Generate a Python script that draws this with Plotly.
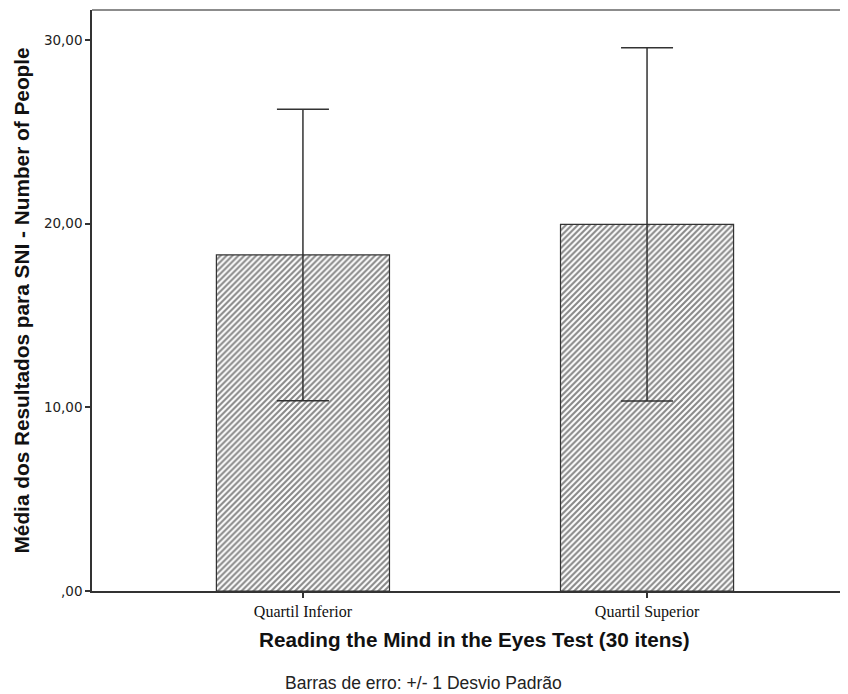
import plotly.graph_objects as go

categories = ["Quartil Inferior", "Quartil Superior"]
means = [18.30, 19.97]
sds = [7.94, 9.62]
ytick_vals = [0, 10, 20, 30]
ytick_text = [",00", "10,00", "20,00", "30,00"]

fig = go.Figure()
fig.add_trace(go.Bar(
    x=categories, y=means, width=0.503,
    marker=dict(color="white", line=dict(color="#333333", width=1.2),
                pattern=dict(shape="/", fgcolor="#111111", bgcolor="white", size=4.2, solidity=0.5)),
    error_y=dict(type="data", array=sds, visible=True, color="#333333", thickness=1.5, width=26),
    showlegend=False,
))

fig.update_layout(
    width=840, height=686,
    margin=dict(l=84, r=0, t=2, b=103),
    paper_bgcolor="white", plot_bgcolor="white",
    xaxis=dict(range=[-0.613, 1.584], showgrid=False, zeroline=False,
               showline=True, linecolor="#333333", linewidth=1.5,
               ticks="outside", ticklen=5, tickcolor="#333333", tickwidth=1.5,
               tickfont=dict(family="Liberation Serif", size=16, color="#111111")),
    yaxis=dict(range=[0, 31.64], showgrid=False, zeroline=False,
               showline=True, linecolor="#333333", linewidth=1.5,
               ticks="outside", ticklen=5, tickcolor="#333333", tickwidth=1.5,
               tickvals=ytick_vals, ticktext=ytick_text,
               tickfont=dict(family="DejaVu Sans", size=13.5, color="#222222")),
    shapes=[dict(type="line", xref="paper", yref="paper", x0=0, x1=1, y0=1, y1=1,
                 line=dict(color="#8c8c8c", width=2))],
    annotations=[
        dict(text="<b>Reading the Mind in the Eyes Test (30 itens)</b>", xref="x", yref="paper",
             x=0.5, y=-0.0843, xanchor="center", yanchor="middle", showarrow=False,
             font=dict(family="Liberation Sans", size=20.7, color="#111111")),
        dict(text="<b>Média dos Resultados para SNI - Number of People</b>", xref="paper", yref="paper",
             x=-0.0926, y=0.5, xanchor="center", yanchor="middle", textangle=-90, showarrow=False,
             font=dict(family="Liberation Sans", size=20.8, color="#111111")),
        dict(text="Barras de erro: +/- 1 Desvio Padrão", xref="paper", yref="paper",
             x=0.439, y=-0.158, xanchor="center", yanchor="middle", showarrow=False,
             font=dict(family="Liberation Sans", size=17.5, color="#222222")),
    ],
)

fig.write_html("out.html")
